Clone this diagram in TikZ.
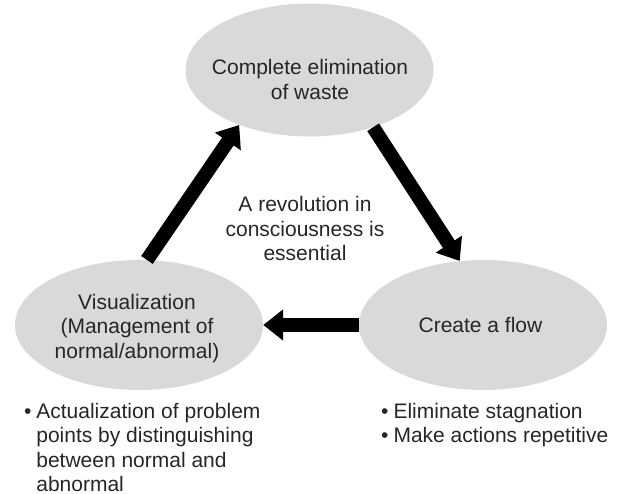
\documentclass[tikz,border=0pt]{standalone}
\usepackage{fontspec}
\setmainfont{Liberation Sans}
\usetikzlibrary{arrows.meta,shapes.geometric}
\definecolor{ellfill}{HTML}{D9D9D9}
\definecolor{txtcol}{HTML}{262626}
\newcommand{\mytab}[2][c]{\begin{tabular}[t]{@{}#1@{}}#2\end{tabular}}
\tikzset{
  ell/.style={ellipse, fill=ellfill, draw=none, inner sep=0pt,
              minimum width=248pt, minimum height=130pt},
  txt/.style={anchor=base, inner sep=0pt, text=txtcol,
              font=\fontsize{21pt}{24.5pt}\selectfont},
  bigarrow/.style={line width=14pt, -{Triangle[width=30pt,length=20pt]}, black},
}
\begin{document}
\begin{tikzpicture}[x=1pt,y=-1pt]
\useasboundingbox (0,0) rectangle (621,494);
% ellipses
\node[ell, minimum height=133pt] (top) at (309.5,70) {};
\node[ell] (left) at (139,325) {};
\node[ell] (right) at (483,325) {};
% texts
\node[txt] (ttop) at (310,75) {\mytab{Complete elimination\\of waste}};
\node[txt] (tleft) at (137,309.5) {\mytab{Visualization\\(Management of\\normal/abnormal)}};
\node[txt] (tright) at (480.5,332) {Create a flow};
\node[txt] (tcenter) at (305,212) {\mytab{A revolution in\\consciousness is\\essential}};
\node[txt, anchor=base west] (bl) at (24,418)
  {\begin{tabular}[t]{@{}l@{\hspace{4.8pt}}l@{}}
   •&Actualization of problem\\
    &points by distinguishing\\
    &between normal and\\
    &abnormal
   \end{tabular}};
\node[txt, anchor=base west] (br) at (381,418)
  {\begin{tabular}[t]{@{}l@{\hspace{5pt}}l@{}}
   •&Eliminate stagnation\\
   •&Make actions repetitive
   \end{tabular}};
% arrows
\draw[bigarrow] (top.-42) -- (right.110.5);
\draw[bigarrow] (right.180) -- (left.0);
\draw[bigarrow] (left.83) -- (top.-142.4);
\end{tikzpicture}
\end{document}
